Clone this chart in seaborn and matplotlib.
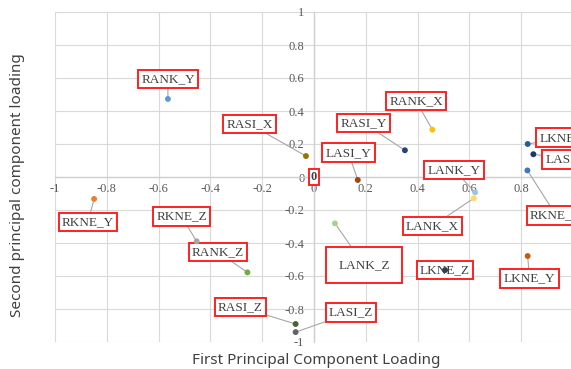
import pandas as pd
import seaborn as sns
import matplotlib.pyplot as plt

# loadings
labels = ["RKNE_X", "RKNE_Y", "RKNE_Z", "RANK_X", "RANK_Y", "RANK_Z",
          "RASI_X", "RASI_Y", "RASI_Z", "LKNE_X", "LKNE_Y", "LKNE_Z",
          "LANK_X", "LANK_Y", "LANK_Z", "LASI_X", "LASI_Y", "LASI_Z"]
pc1 = [0.824, -0.849, -0.453, 0.457, -0.564, -0.257,
       -0.031, 0.351, -0.071, 0.825, 0.825, 0.506,
       0.617, 0.622, 0.081, 0.847, 0.169, -0.071]
pc2 = [0.040, -0.133, -0.390, 0.287, 0.473, -0.578,
       0.127, 0.162, -0.891, 0.200, -0.479, -0.564,
       -0.129, -0.093, -0.281, 0.138, -0.018, -0.940]
ticks = [-1, -0.8, -0.6, -0.4, -0.2, 0, 0.2, 0.4, 0.6, 0.8, 1]

# where each callout box sits (data coords)
label_x = [0.935, -0.873, -0.511, 0.394, -0.564, -0.371,
           -0.249, 0.191, -0.284, 0.969, 0.832, 0.506,
           0.457, 0.541, 0.193, 0.981, 0.133, 0.143]
label_y = [-0.233, -0.273, -0.240, 0.461, 0.594, -0.455,
           0.321, 0.327, -0.788, 0.238, -0.615, -0.564,
           -0.297, 0.042, -0.533, 0.107, 0.147, -0.822]

colors = ["#4472C4", "#ED7D31", "#A5A5A5", "#FFC000", "#5B9BD5", "#70AD47",
          "#997300", "#264478", "#43682B", "#255E91", "#C55A11", "#333F50",
          "#FFD966", "#9DC3E6", "#A9D18E", "#203864", "#9E480E", "#636363"]

df = pd.DataFrame({"name": labels, "pc1": pc1, "pc2": pc2})
palette = dict(zip(labels, colors))

sns.set_style("white")
plt.rcParams["font.family"] = ["Liberation Serif", "DejaVu Serif"]

fig = plt.figure(figsize=(5.71, 3.69), dpi=100)
ax = fig.add_axes([55 / 571, 27 / 369, 518 / 571, 330 / 369])

sns.scatterplot(data=df, x="pc1", y="pc2", hue="name", palette=palette,
                s=18, linewidth=0, legend=False, ax=ax, zorder=6)

ax.set_xlim(-1, 1)
ax.set_ylim(-1, 1)
ax.set_xlabel("")
ax.set_ylabel("")
ax.set_xticks(ticks)
ax.set_yticks(ticks)
ax.set_xticklabels([f"{t:g}" for t in ticks])
ax.set_yticklabels([f"{t:g}" for t in ticks])
ax.grid(True, color="#d9d9d9", lw=0.8)
ax.set_axisbelow(True)

for side in ["top", "right"]:
    ax.spines[side].set_visible(False)
for side in ["left", "bottom"]:
    ax.spines[side].set_position("zero")
    ax.spines[side].set_color("#d0d0d0")
    ax.spines[side].set_linewidth(1.0)

ax.tick_params(axis="x", length=0, pad=4, labelsize=9, labelcolor="#595959")
ax.tick_params(axis="y", length=0, pad=7, labelsize=9, labelcolor="#595959")

# callout labels with leader lines
for i, name in enumerate(labels):
    pad = 0.9 if name == "LANK_Z" else 0.25
    ax.annotate(name, xy=(pc1[i], pc2[i]), xytext=(label_x[i], label_y[i]),
                ha="center", va="center", fontsize=9.5, color="#404040",
                bbox=dict(boxstyle=f"square,pad={pad}", fc="white",
                          ec="#ff2020", lw=1.4),
                arrowprops=dict(arrowstyle="-", color="#a6a6a6", lw=0.8,
                                shrinkA=0, shrinkB=2),
                annotation_clip=False, zorder=5)

# the "0" data label at the origin
ax.text(0, 0, "0", ha="center", va="center", fontsize=9, fontweight="bold",
        color="#404040", zorder=7,
        bbox=dict(boxstyle="square,pad=0.15", fc="white", ec="#ff2020", lw=1.4))

fig.text(316 / 571, 1 - 361 / 369, "First Principal Component Loading",
         ha="center", va="center", fontsize=11, color="#404040",
         family=["Noto Sans", "DejaVu Sans"])
fig.text(18 / 571, 1 - 185 / 369, "Second principal component loading",
         ha="center", va="center", rotation=90, fontsize=11, color="#404040",
         family=["Noto Sans", "DejaVu Sans"])

fig.savefig("out.png", dpi=100)
